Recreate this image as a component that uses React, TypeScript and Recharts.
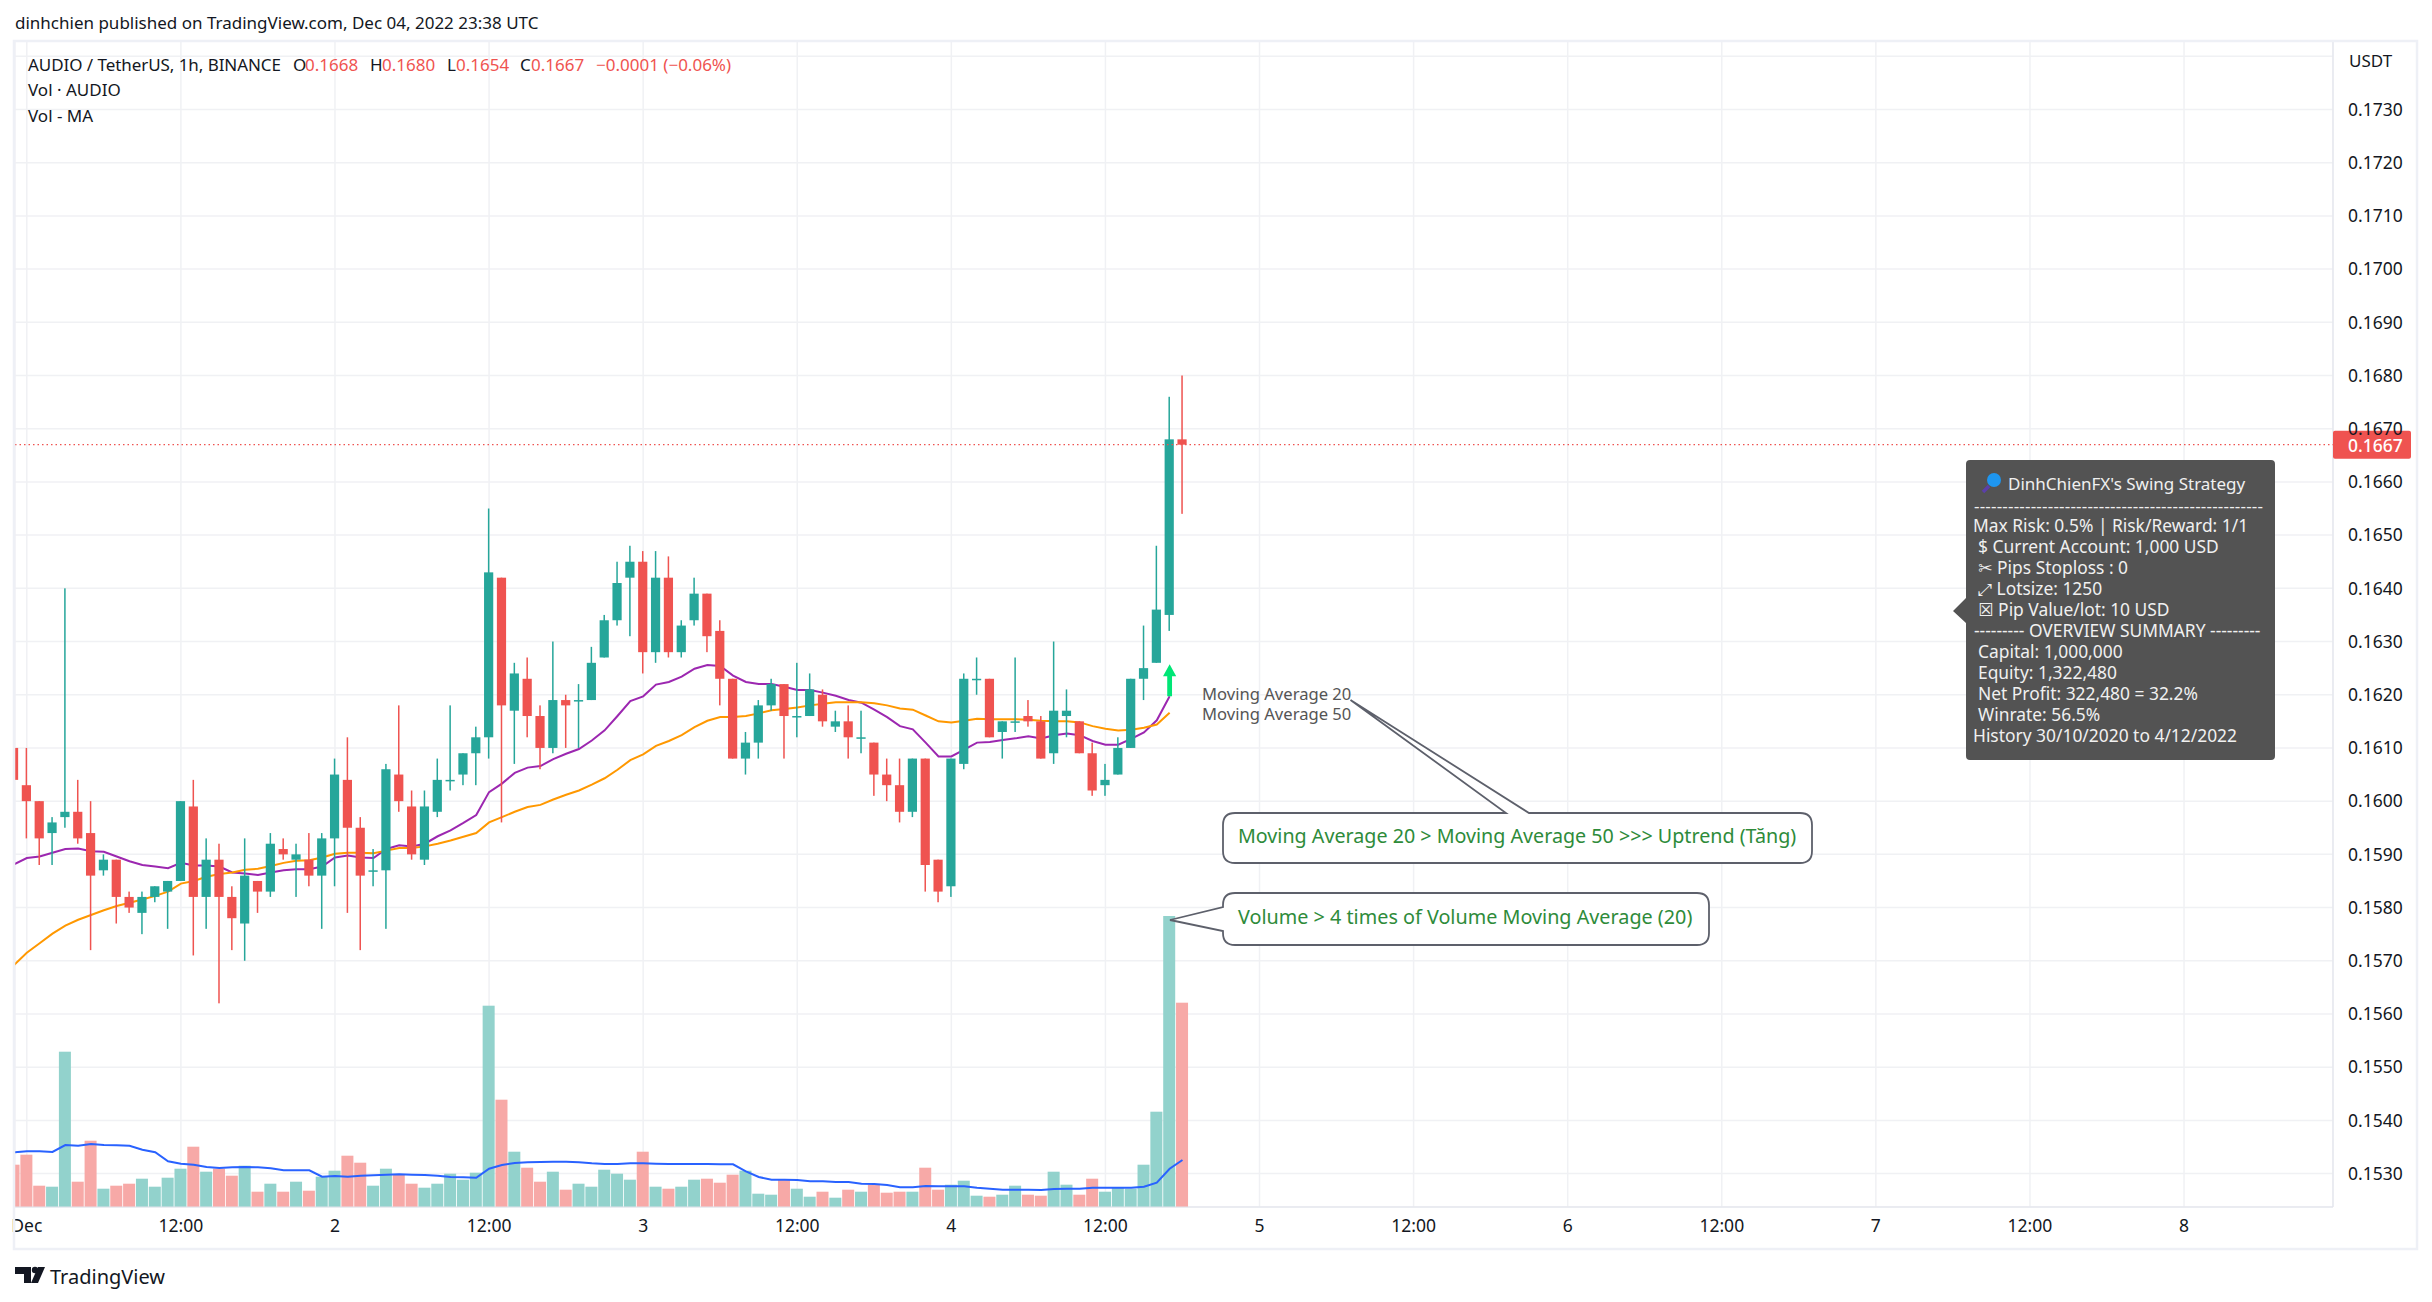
import {
  Bar,
  CartesianGrid,
  ComposedChart,
  Line,
  ReferenceDot,
  ReferenceLine,
  XAxis,
  YAxis,
} from "recharts";

const UP = "#26a69a";
const DOWN = "#ef5350";
const FONT = "'Noto Sans', 'DejaVu Sans', sans-serif";

// hourly candles, first one is the 23:00 bar cut by the left edge
const opens = [
  0.161, 0.1603, 0.16, 0.1594, 0.1597, 0.1598, 0.1594, 0.1587, 0.1589, 0.1582, 0.1579, 0.1582, 0.1583, 0.1585, 0.1599,
  0.1582, 0.1589, 0.1582, 0.1577, 0.1585, 0.1583, 0.1591, 0.1589, 0.1589, 0.1586, 0.1593, 0.1604, 0.1595, 0.1587,
  0.1587, 0.1605, 0.1599, 0.1589, 0.1598, 0.1604, 0.1605, 0.1609, 0.1612, 0.1642, 0.1617, 0.1623, 0.1616, 0.161,
  0.1619, 0.1619, 0.1619, 0.1627, 0.1634, 0.1642, 0.1645, 0.1628, 0.1642, 0.1628, 0.1634, 0.1639, 0.1632, 0.1623,
  0.1608, 0.1611, 0.1618, 0.1622, 0.1616, 0.1616, 0.162, 0.1614, 0.1615, 0.1612, 0.1611, 0.1605, 0.1603, 0.1598,
  0.1608, 0.1589, 0.1584, 0.1607, 0.1623, 0.1623, 0.1613, 0.1615, 0.1616, 0.1615, 0.1609, 0.1616, 0.1615, 0.1609,
  0.1603, 0.1605, 0.161, 0.1623, 0.1626, 0.1635, 0.1668,
];
const closes = [
  0.1604, 0.16, 0.1593, 0.1596, 0.1598, 0.1593, 0.1586, 0.1589, 0.1582, 0.158, 0.1582, 0.1584, 0.1585, 0.16, 0.1582,
  0.1589, 0.1582, 0.1578, 0.1586, 0.1583, 0.1592, 0.159, 0.159, 0.1586, 0.1593, 0.1605, 0.1595, 0.1586, 0.1587, 0.1606,
  0.16, 0.159, 0.1599, 0.1604, 0.1604, 0.1609, 0.1612, 0.1643, 0.1618, 0.1624, 0.1616, 0.161, 0.1619, 0.1618, 0.1619,
  0.1626, 0.1634, 0.1641, 0.1645, 0.1628, 0.1642, 0.1628, 0.1633, 0.1639, 0.1631, 0.1623, 0.1608, 0.1611, 0.1618,
  0.1622, 0.1616, 0.1616, 0.1621, 0.1615, 0.1615, 0.1612, 0.1612, 0.1605, 0.1603, 0.1598, 0.1608, 0.1588, 0.1583,
  0.1608, 0.1623, 0.1623, 0.1612, 0.1615, 0.1615, 0.1615, 0.1608, 0.1617, 0.1617, 0.1609, 0.1602, 0.1604, 0.161,
  0.1623, 0.1625, 0.1636, 0.1668, 0.1667,
];
const highs = [
  0.161, 0.161, 0.16, 0.1597, 0.164, 0.1604, 0.16, 0.159, 0.1589, 0.1583, 0.1583, 0.1584, 0.1585, 0.16, 0.1604, 0.1593,
  0.1592, 0.1584, 0.1593, 0.1585, 0.1594, 0.1593, 0.1592, 0.1594, 0.1594, 0.1608, 0.1612, 0.1597, 0.1591, 0.1607,
  0.1618, 0.1602, 0.1602, 0.1608, 0.1618, 0.1609, 0.1614, 0.1655, 0.1642, 0.1626, 0.1627, 0.1618, 0.163, 0.162, 0.1622,
  0.1629, 0.1635, 0.1645, 0.1648, 0.1647, 0.1647, 0.1646, 0.1634, 0.1642, 0.1639, 0.1634, 0.1623, 0.1613, 0.1619,
  0.1623, 0.1622, 0.1626, 0.1624, 0.1621, 0.1617, 0.1618, 0.1617, 0.1611, 0.1608, 0.1608, 0.1608, 0.1608, 0.1589,
  0.1608, 0.1624, 0.1627, 0.1623, 0.1615, 0.1627, 0.1619, 0.1616, 0.163, 0.1621, 0.1615, 0.1611, 0.1607, 0.1612,
  0.1623, 0.1633, 0.1648, 0.1676, 0.168,
];
const lows = [
  0.1604, 0.1593, 0.1588, 0.1588, 0.1595, 0.1592, 0.1572, 0.1586, 0.1577, 0.1579, 0.1575, 0.1581, 0.1576, 0.1585,
  0.1571, 0.1576, 0.1562, 0.1572, 0.157, 0.1579, 0.1582, 0.1589, 0.1582, 0.1584, 0.1576, 0.1584, 0.1579, 0.1572, 0.1584,
  0.1576, 0.1598, 0.1589, 0.1588, 0.1597, 0.1602, 0.1603, 0.1603, 0.1608, 0.1596, 0.1607, 0.1612, 0.1606, 0.1609,
  0.161, 0.161, 0.1619, 0.1627, 0.1633, 0.1631, 0.1624, 0.1626, 0.1627, 0.1627, 0.1633, 0.1628, 0.1618, 0.1608, 0.1605,
  0.1608, 0.1617, 0.1608, 0.1612, 0.1616, 0.1614, 0.1613, 0.1608, 0.1609, 0.1601, 0.16, 0.1596, 0.1597, 0.1583, 0.1581,
  0.1582, 0.1606, 0.162, 0.1612, 0.1608, 0.1613, 0.1614, 0.1608, 0.1607, 0.1612, 0.1609, 0.1601, 0.1601, 0.1605, 0.161,
  0.1619, 0.1626, 0.1632, 0.1654,
];
const ma20 = [
  0.15881, 0.15893, 0.15896, 0.15903, 0.1591, 0.15911, 0.15906, 0.15905, 0.15896, 0.15887, 0.1588, 0.15877, 0.15874,
  0.15884, 0.15879, 0.15879, 0.15877, 0.15866, 0.15864, 0.15861, 0.15866, 0.1587, 0.15872, 0.15872, 0.15877, 0.15894,
  0.15898, 0.15894, 0.15893, 0.1591, 0.15917, 0.15915, 0.1592, 0.15934, 0.15945, 0.15959, 0.15974, 0.16017, 0.16033,
  0.16053, 0.16063, 0.16066, 0.16079, 0.16089, 0.16098, 0.16114, 0.16133, 0.1616, 0.16188, 0.16197, 0.16219, 0.16224,
  0.16234, 0.16249, 0.16256, 0.16254, 0.16236, 0.16224, 0.1622, 0.1622, 0.16215, 0.16209, 0.16209, 0.16204, 0.16198,
  0.1619, 0.16185, 0.16172, 0.16158, 0.16141, 0.16135, 0.1611, 0.16084, 0.16084, 0.16097, 0.1611, 0.16111, 0.16115,
  0.16118, 0.16122, 0.16118, 0.16124, 0.16127, 0.16124, 0.16113, 0.16106, 0.16106, 0.16117, 0.16129, 0.16152, 0.16197,
];
const ma50 = [
  0.15692, 0.15715, 0.15733, 0.15751, 0.15766, 0.15777, 0.15786, 0.15795, 0.15803, 0.15809, 0.15815, 0.15822, 0.1583,
  0.15845, 0.1585, 0.15858, 0.15863, 0.15866, 0.15871, 0.15873, 0.15878, 0.15884, 0.15888, 0.15889, 0.15894, 0.15901,
  0.15903, 0.15903, 0.15902, 0.15907, 0.15912, 0.15912, 0.15915, 0.1592, 0.15926, 0.15933, 0.1594, 0.1596, 0.1597,
  0.1598, 0.15989, 0.15993, 0.16003, 0.16012, 0.1602, 0.16031, 0.16043, 0.16059, 0.16077, 0.16088, 0.16104, 0.16113,
  0.16124, 0.16139, 0.16151, 0.16158, 0.16158, 0.1616, 0.16165, 0.16171, 0.16173, 0.16176, 0.1618, 0.16183, 0.16186,
  0.16186, 0.16186, 0.16184, 0.1618, 0.16174, 0.16172, 0.16161, 0.1615, 0.16148, 0.16151, 0.16155, 0.16154, 0.16154,
  0.16154, 0.16153, 0.16151, 0.1615, 0.1615, 0.16148, 0.16141, 0.16136, 0.16133, 0.16134, 0.16138, 0.16144, 0.16166,
];
// volume in the hidden pane's own units
const volumes = [
  42.3, 52.3, 21.3, 20.3, 155.3, 25.3, 66.3, 18.3, 21.3, 23.3, 28.3, 20.3, 29.3, 38.3, 60.3, 35.3, 38.3, 31.3, 41.3,
  15.3, 23.3, 15.3, 25.3, 16.3, 30.3, 36.3, 51.3, 44.3, 21.3, 38.3, 32.3, 23.3, 19.3, 23.3, 33.3, 27.3, 34.3, 201.3,
  107.3, 55.3, 39.3, 25.3, 35.3, 17.3, 23.3, 20.3, 37.3, 33.3, 27.3, 55.3, 20.3, 18.3, 20.3, 27.3, 28.3, 24.3, 32.3,
  36.3, 13.3, 12.3, 27.3, 18.3, 10.3, 15.3, 9.3, 17.3, 15.3, 22.3, 14.3, 15.3, 15.3, 39.3, 17.3, 22.3, 26.3, 11.3, 10.3,
  12.3, 21.3, 12.3, 11.3, 35.3, 22.3, 12.3, 28.3, 15.3, 19.3, 18.3, 42.3, 95.3, 291, 204.3,
];
const volumeMa = [
  54.7, 55.7, 55.7, 55, 62, 61.3, 63, 62, 61.7, 61.3, 57.3, 54.7, 45.7, 43.3, 42.3, 40, 39, 39.7, 40, 39.7, 38.7, 36.7,
  36.7, 36.7, 30.3, 31, 30.3, 31.3, 31.7, 32.3, 32.7, 32.3, 32, 31.3, 30, 29.7, 29.3, 38.3, 42, 44, 44.7, 45, 45.3,
  45.3, 44.7, 43.7, 43, 43, 43.7, 43.7, 43.3, 43, 43, 43, 43, 42.7, 42.7, 35.7, 30, 27.3, 27.3, 27, 25.7, 25.7, 25, 25,
  23.3, 23, 22, 19.7, 19.7, 21, 20.7, 20.7, 20.7, 19.3, 18.3, 17.3, 17.3, 17.3, 17, 18, 18.3, 18.3, 19.3, 19.3, 19.3,
  19.3, 20.3, 24.3, 38.3, 47,
];

const timeTicks = [0, 12, 24, 36, 48, 60, 72, 84, 96, 108, 120, 132, 144, 156, 168];
const timeLabels = ["Dec", "12:00", "2", "12:00", "3", "12:00", "4", "12:00", "5", "12:00", "6", "12:00", "7", "12:00", "8"];
const priceTicks = [
  0.153, 0.154, 0.155, 0.156, 0.157, 0.158, 0.159, 0.16, 0.161, 0.162, 0.163, 0.164, 0.165, 0.166, 0.167, 0.168, 0.169,
  0.17, 0.171, 0.172, 0.173, 0.174,
];
const tipLines = [
  { x: 1973, y: 525, text: "Max Risk: 0.5% | Risk/Reward: 1/1" },
  { x: 1978, y: 546, text: "$ Current Account: 1,000 USD" },
  { x: 1978, y: 567, text: "✂ Pips Stoploss : 0" },
  { x: 1978, y: 588, text: "⤢ Lotsize: 1250" },
  { x: 1978, y: 609, text: "☒ Pip Value/lot: 10 USD" },
  { x: 1974, y: 630, text: "--------- OVERVIEW SUMMARY ---------" },
  { x: 1978, y: 651, text: "Capital: 1,000,000" },
  { x: 1978, y: 672, text: "Equity: 1,322,480" },
  { x: 1978, y: 693, text: "Net Profit: 322,480 = 32.2%" },
  { x: 1978, y: 714, text: "Winrate: 56.5%" },
  { x: 1973, y: 735, text: "History 30/10/2020 to 4/12/2022" },
];

const rows = opens.map((open, i) => ({
  hour: i - 1,
  open,
  close: closes[i],
  high: highs[i],
  low: lows[i],
  ma20: ma20[i],
  ma50: ma50[i],
  volume: volumes[i],
  volumeMa: volumeMa[i],
}));

const hourDomain = [-0.919, 179.6];
const priceDomain = [0.152372, 0.174287];

function Candle(props: any) {
  const { x, y, width, height, payload } = props;
  const color = payload.close >= payload.open ? UP : DOWN;
  const center = x + width / 2;
  const perPrice = Math.abs(height) / (payload.high - payload.low || 1);
  const top = y + (payload.high - Math.max(payload.open, payload.close)) * perPrice;
  const bodyHeight = Math.abs(payload.open - payload.close) * perPrice;
  return (
    <g>
      <rect x={center - 0.75} y={y} width={1.5} height={Math.abs(height)} fill={color} />
      <rect x={center - 4.6} y={top} width={9.2} height={Math.max(bodyHeight, 1.5)} fill={color} />
    </g>
  );
}

function VolumeBar(props: any) {
  const { x, y, width, height, payload } = props;
  const center = x + width / 2;
  return (
    <rect
      x={center - 6}
      y={y}
      width={12}
      height={height}
      fill={payload.close >= payload.open ? "#92d2cc" : "#f7a9a7"}
    />
  );
}

function LastPrice(props: any) {
  const { x1, x2, y1 } = props;
  const left = Math.min(x1, x2);
  const right = Math.max(x1, x2);
  return (
    <g>
      <line x1={left} x2={right} y1={y1} y2={y1} stroke={DOWN} strokeWidth={1.2} strokeDasharray="1.5 3" />
      <rect x={right} y={y1 - 14} width={78} height={28} rx={2} fill={DOWN} />
      <text x={right + 15} y={y1} dominantBaseline="central" fill="#fff" fontSize={17.5} fontWeight={500} fontFamily={FONT}>
        0.1667
      </text>
    </g>
  );
}

function SignalArrow(props: any) {
  const { cx, cy } = props;
  return (
    <path
      d={`M${cx - 2.4} ${cy} V${cy - 20} H${cx - 6.6} L${cx} ${cy - 32} L${cx + 6.6} ${cy - 20} H${cx + 2.4} V${cy} Z`}
      fill="#00e676"
    />
  );
}

function Label(props: any) {
  const { x, y, size = 17, fill = "#131722", children, ...rest } = props;
  return (
    <text x={x} y={y} dominantBaseline="central" fontSize={size} fontFamily={FONT} fill={fill} {...rest}>
      {children}
    </text>
  );
}

export default function App() {
  return (
    <div style={{ position: "absolute", left: 0, top: 0, width: 2432, height: 1302, background: "#fff" }}>
      <ComposedChart
        width={2432}
        height={1302}
        data={rows}
        margin={{ top: 41, right: 15, bottom: 53, left: 15 }}
      >
        <CartesianGrid stroke="#f0f1f4" strokeWidth={1.5} />
        <XAxis
          dataKey="hour"
          type="number"
          domain={hourDomain}
          allowDataOverflow
          ticks={timeTicks}
          tickFormatter={(h: number) => timeLabels[timeTicks.indexOf(h)]}
          interval={0}
          height={42}
          tickLine={false}
          tickSize={0}
          tickMargin={13}
          stroke="#e0e3eb"
          tick={{ fill: "#131722", fontSize: 17.5, fontFamily: FONT }}
        />
        <XAxis xAxisId="vol" dataKey="hour" type="number" domain={hourDomain} allowDataOverflow hide />
        <YAxis
          orientation="right"
          type="number"
          domain={priceDomain}
          allowDataOverflow
          ticks={priceTicks}
          tickFormatter={(p: number) => (p > 0.1735 ? "" : p.toFixed(4))}
          interval={0}
          width={84}
          tickLine={false}
          tickSize={0}
          tickMargin={15}
          stroke="#e0e3eb"
          tick={{ fill: "#131722", fontSize: 17.5, fontFamily: FONT }}
        />
        <YAxis yAxisId="vol" type="number" domain={[0, 1166]} hide />

        <Bar
          xAxisId="vol"
          yAxisId="vol"
          dataKey="volume"
          barSize={12}
          shape={VolumeBar}
          isAnimationActive={false}
        />
        <Line
          xAxisId="vol"
          yAxisId="vol"
          dataKey="volumeMa"
          type="linear"
          stroke="#2962ff"
          strokeWidth={2}
          dot={false}
          isAnimationActive={false}
        />
        <Line dataKey="ma20" type="linear" stroke="#9c27b0" strokeWidth={2} dot={false} isAnimationActive={false} />
        <Line dataKey="ma50" type="linear" stroke="#ff9800" strokeWidth={2} dot={false} isAnimationActive={false} />
        <Bar
          dataKey={(d: any) => [d.low, d.high]}
          barSize={10}
          shape={Candle}
          isAnimationActive={false}
          {...({ zIndex: 500 } as any)}
        />
        <ReferenceLine y={0.1667} shape={LastPrice} {...({ zIndex: 600 } as any)} />
        <ReferenceDot x={89} y={0.16197} shape={SignalArrow} {...({ zIndex: 600 } as any)} />
      </ComposedChart>

      <svg width={2432} height={1302} style={{ position: "absolute", left: 0, top: 0, pointerEvents: "none" }}>
        <rect x={14} y={41} width={2403} height={1208} fill="none" stroke="#eef0f6" strokeWidth={2.5} />

        <Label x={15} y={22}>dinhchien published on TradingView.com, Dec 04, 2022 23:38 UTC</Label>
        <Label x={28} y={64} textLength={253}>AUDIO / TetherUS, 1h, BINANCE</Label>
        <Label x={293} y={64}>O</Label>
        <Label x={305} y={64} fill={DOWN}>0.1668</Label>
        <Label x={370} y={64}>H</Label>
        <Label x={382} y={64} fill={DOWN}>0.1680</Label>
        <Label x={447} y={64}>L</Label>
        <Label x={456} y={64} fill={DOWN}>0.1654</Label>
        <Label x={520} y={64}>C</Label>
        <Label x={531} y={64} fill={DOWN}>0.1667</Label>
        <Label x={596} y={64} fill={DOWN}>−0.0001 (−0.06%)</Label>
        <Label x={28} y={89}>Vol · AUDIO</Label>
        <Label x={28} y={115}>Vol - MA</Label>
        <Label x={2349} y={60}>USDT</Label>

        <Label x={1202} y={693} fill="#555" size={16.6}>Moving Average 20</Label>
        <Label x={1202} y={713} fill="#555" size={16.6}>Moving Average 50</Label>

        <path
          d="M1235 813 H1506 L1350.5 700 L1529 813 H1800 Q1812 813 1812 825 V851 Q1812 863 1800 863 H1235 Q1223 863 1223 851 V825 Q1223 813 1235 813 Z"
          fill="#fff"
          stroke="#5d606b"
          strokeWidth={1.8}
        />
        <Label x={1238} y={835} fill="#2e8b3a" size={19.7}>Moving Average 20 &gt; Moving Average 50 &gt;&gt;&gt; Uptrend (Tăng)</Label>
        <path
          d="M1235 893 H1697 Q1709 893 1709 905 V933 Q1709 945 1697 945 H1235 Q1223 945 1223 933 V931 L1170 920 L1223 907 V905 Q1223 893 1235 893 Z"
          fill="#fff"
          stroke="#5d606b"
          strokeWidth={1.8}
        />
        <Label x={1238} y={916} fill="#2e8b3a" size={19.8}>Volume &gt; 4 times of Volume Moving Average (20)</Label>

        <path
          d="M1970 460 H2271 Q2275 460 2275 464 V756 Q2275 760 2271 760 H1970 Q1966 760 1966 756 V623 L1953 611 L1966 598 V464 Q1966 460 1970 460 Z"
          fill="#535353"
        />
        <circle cx={1994} cy={480} r={7} fill="#1e96f0" />
        <line x1={1989} y1={486} x2={1983} y2={492} stroke="#5b3fa8" strokeWidth={3.5} />
        <Label x={2008} y={483} fill="#f0f0f0" size={17}>DinhChienFX's Swing Strategy</Label>
        <Label x={1974} y={505} fill="#f0f0f0" textLength={289}>---------------------------------------------------</Label>
        {tipLines.map((l) => (
          <Label key={l.y} x={l.x} y={l.y} fill="#f0f0f0" size={17.4}>{l.text}</Label>
        ))}

        <path d="M15 1267 H31 V1283 H24 V1274 H15 Z" fill="#131722" />
        <circle cx={35} cy={1270} r={3.2} fill="#131722" />
        <path d="M38 1267 H45 L38 1283 H31 Z" fill="#131722" />
        <Label x={50} y={1276} size={20}>TradingView</Label>
      </svg>
    </div>
  );
}
